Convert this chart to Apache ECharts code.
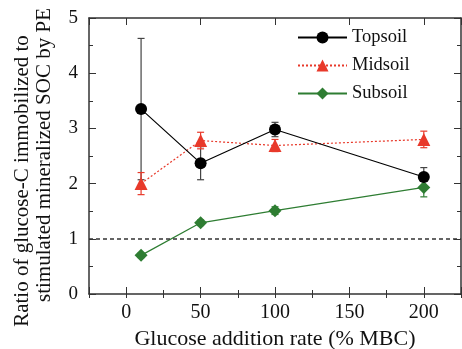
<!DOCTYPE html>
<html>
<head>
<meta charset="utf-8">
<script src="https://cdn.jsdelivr.net/npm/echarts@6/dist/echarts.min.js"></script>
<style>
  html, body { margin: 0; padding: 0; background: #fff; }
  #main { width: 462px; height: 349px; }
</style>
</head>
<body>
<div id="main"></div>
<script>
// glucose addition rates (% MBC)
var rates = [10, 50, 100, 200];
var topsoil = [3.35, 2.37, 2.98, 2.12];
var topsoilErr = [1.28, 0.30, 0.13, 0.17];
var midsoil = [2.00, 2.78, 2.69, 2.80];
var midsoilErr = [0.20, 0.15, 0.11, 0.15];
var subsoil = [0.70, 1.29, 1.51, 1.93];
var subsoilErr = [0.04, 0.05, 0.07, 0.17];

var serif = 'Liberation Serif';
var axisCol = '#333';
var cTop = '#000000', cMid = '#e8392a', cSub = '#2e7d32';

function pts(ys) {
  return rates.map(function (x, i) { return [x, ys[i]]; });
}
function bars(ys, es) {
  return rates.map(function (x, i) { return [x, ys[i] - es[i], ys[i] + es[i]]; });
}
function errSeries(name, ys, es, color) {
  return {
    name: name + ' err',
    type: 'custom',
    data: bars(ys, es),
    encode: { x: 0, y: [1, 2] },
    z: 1,
    silent: true,
    renderItem: function (params, api) {
      var x = api.value(0);
      var top = api.coord([x, api.value(2)]);
      var bot = api.coord([x, api.value(1)]);
      var w = 3.5;
      var st = { stroke: color, lineWidth: 1.2 };
      return {
        type: 'group',
        children: [
          { type: 'line', shape: { x1: top[0], y1: top[1], x2: bot[0], y2: bot[1] }, style: st },
          { type: 'line', shape: { x1: top[0] - w, y1: top[1], x2: top[0] + w, y2: top[1] }, style: st },
          { type: 'line', shape: { x1: bot[0] - w, y1: bot[1], x2: bot[0] + w, y2: bot[1] }, style: st }
        ]
      };
    }
  };
}

var chart = echarts.init(document.getElementById('main'));

var mainX = {
  min: -25, max: 225, splitNumber: 5,
  axisLine: { onZero: false, lineStyle: { color: axisCol, width: 1.5 } },
  axisTick: { inside: true, length: 7, lineStyle: { color: axisCol } },
  splitLine: { show: false }
};
var minorX = {
  min: -25, max: 225, interval: 25,
  axisLine: { show: false },
  axisTick: { inside: true, length: 4, lineStyle: { color: axisCol } },
  axisLabel: { show: false },
  splitLine: { show: false }
};
var yBase = {
  type: 'value', min: 0, max: 5, interval: 1,
  axisLine: { show: true, onZero: false, lineStyle: { color: axisCol, width: 1.5 } },
  axisTick: { show: true, inside: true, length: 7, lineStyle: { color: axisCol } },
  minorTick: { show: true, splitNumber: 2, length: 4, lineStyle: { color: axisCol } },
  splitLine: { show: false }
};

var option = {
  animation: false,
  backgroundColor: '#fff',
  grid: { left: 89, top: 18, width: 372, height: 276, outerBoundsMode: 'none', containLabel: false },
  legend: {
    orient: 'vertical',
    left: 297, top: 28, padding: 0,
    itemWidth: 49, itemHeight: 15, itemGap: 9,
    textStyle: { fontFamily: serif, fontSize: 18.5, color: '#111' },
    data: ['Topsoil', 'Midsoil', 'Subsoil']
  },
  xAxis: [
    Object.assign({ type: 'value', position: 'bottom',
      name: 'Glucose addition rate (% MBC)', nameLocation: 'middle', nameGap: 34,
      nameTextStyle: { fontFamily: serif, fontSize: 22, color: '#111' },
      axisLabel: { fontFamily: serif, fontSize: 20, color: '#111', margin: 9,
        formatter: function (v) { return v % 50 === 0 ? v : ''; } } }, mainX),
    Object.assign({ type: 'value', position: 'bottom' }, minorX),
    Object.assign({ type: 'value', position: 'top', axisLabel: { show: false } }, mainX),
    Object.assign({ type: 'value', position: 'top' }, minorX)
  ],
  yAxis: [
    Object.assign({ position: 'left',
      axisLabel: { fontFamily: serif, fontSize: 19, color: '#111', margin: 11 } }, yBase),
    Object.assign({ position: 'right', axisLabel: { show: false } }, yBase)
  ],
  graphic: [
    { type: 'text', x: 22, y: 181, rotation: Math.PI / 2,
      style: { text: 'Ratio of glucose-C immobilized to', font: '21px "Liberation Serif"',
        fill: '#111', align: 'center', verticalAlign: 'middle' } },
    { type: 'text', x: 44, y: 155, rotation: Math.PI / 2,
      style: { text: 'stimulated mineralized SOC by PE', font: '21px "Liberation Serif"',
        fill: '#111', align: 'center', verticalAlign: 'middle' } }
  ],
  series: [
    errSeries('Topsoil', topsoil, topsoilErr, '#444'),
    errSeries('Midsoil', midsoil, midsoilErr, cMid),
    errSeries('Subsoil', subsoil, subsoilErr, cSub),
    {
      name: 'Subsoil', type: 'line', data: pts(subsoil), z: 3,
      symbol: 'diamond', symbolSize: 13,
      itemStyle: { color: cSub }, lineStyle: { color: cSub, width: 1.2 },
      markLine: {
        silent: true, symbol: ['none', 'none'], label: { show: false },
        lineStyle: { color: axisCol, type: [4, 3], width: 1.5 },
        data: [{ yAxis: 1 }]
      }
    },
    {
      name: 'Midsoil', type: 'line', data: pts(midsoil), z: 3,
      symbol: 'triangle', symbolSize: 13,
      itemStyle: { color: cMid }, lineStyle: { color: cMid, width: 1.2, type: [2, 2] }
    },
    {
      name: 'Topsoil', type: 'line', data: pts(topsoil), z: 4,
      symbol: 'circle', symbolSize: 12,
      itemStyle: { color: cTop }, lineStyle: { color: cTop, width: 1.2 }
    }
  ]
};
chart.setOption(option);
</script>
</body>
</html>
